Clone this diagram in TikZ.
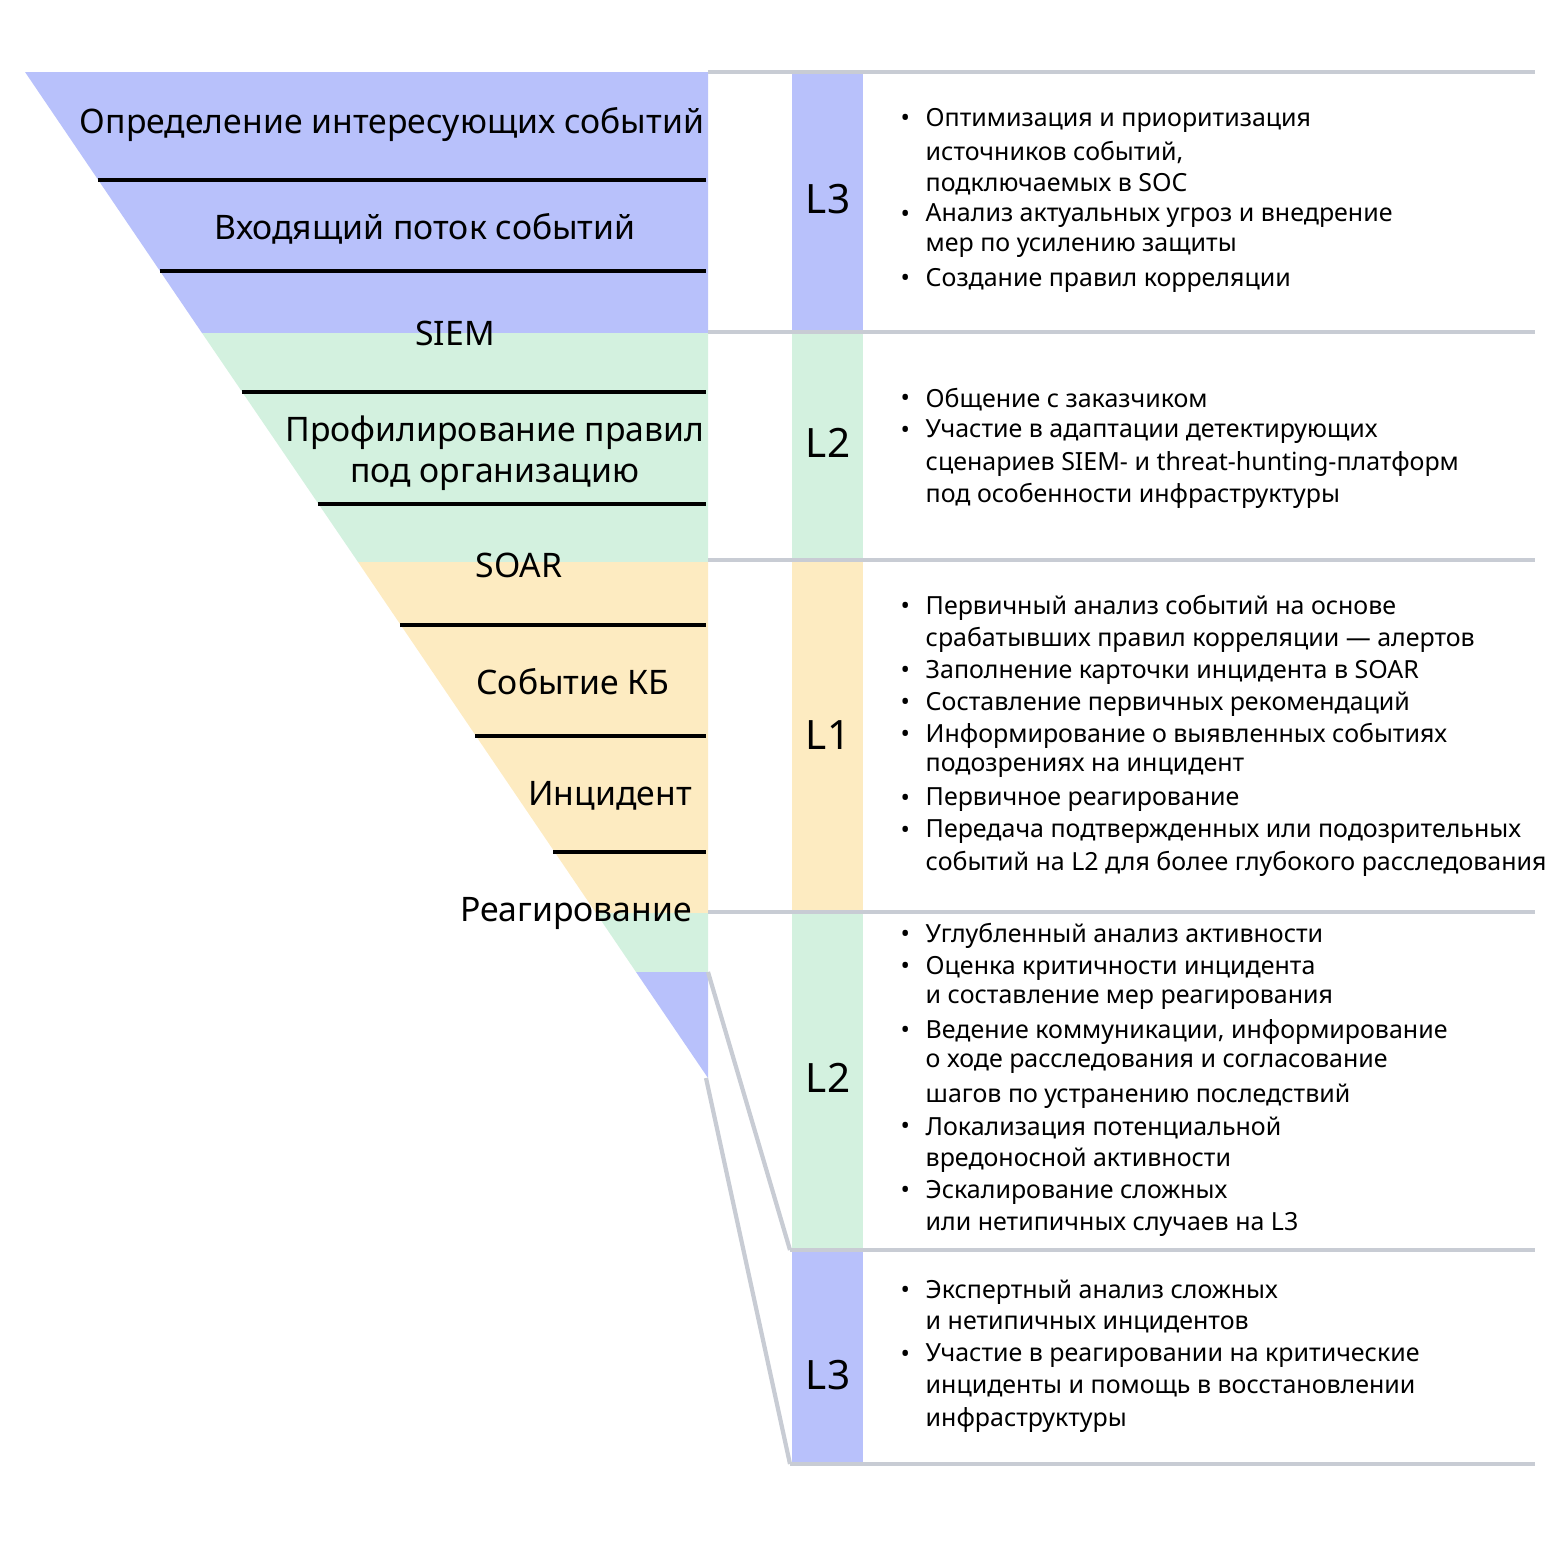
\documentclass[tikz,border=0pt]{standalone}
\usepackage{fontspec}
\setmainfont{Noto Sans}
\definecolor{lblue}{HTML}{B8C1FB}
\definecolor{lgreen}{HTML}{D3F1DF}
\definecolor{lyellow}{HTML}{FDEBC1}
\definecolor{lgray}{HTML}{C8CCD4}
\begin{document}
\begin{tikzpicture}[x=0.01cm,y=-0.01cm,
  stage/.style={font=\fontsize{9.6}{11.6}\selectfont,align=center,inner sep=0},
  lvl/.style={font=\fontsize{11.5}{13}\selectfont,inner sep=0},
  txt/.style={font=\fontsize{7.1}{9}\selectfont,anchor=west,inner sep=0},
  sep/.style={line width=0.9pt},
  grid/.style={lgray,line width=1.2pt}]
\useasboundingbox (0,0) rectangle (1560,1560);
% funnel bands
\fill[lblue] (25,72) -- (708,72) -- (708,333) -- (202,333) -- cycle;
\fill[lgreen] (202,333) -- (708,333) -- (708,562) -- (358,562) -- cycle;
\fill[lyellow] (358,562) -- (708,562) -- (708,913) -- (596,913) -- cycle;
\fill[lgreen] (596,913) -- (708,913) -- (708,972) -- (636,972) -- cycle;
\fill[lblue] (636,972) -- (708,972) -- (708,1078) -- cycle;
\foreach \y/\x in {180/98,271/160,392/242,504/318,625/400,736/475,852/553}
  \draw[sep] (\x,\y) -- (706,\y);
% stage labels
\node[stage] (s1) at (392,125) {Определение интересующих событий};
\node[stage] (s2) at (425,229) {Входящий поток событий};
\node[stage] (siem) at (455,333) {SIEM};
\node[stage] (s3) at (495,453) {Профилирование правил\\под организацию};
\node[stage] (soar) at (519,565) {SOAR};
\node[stage] (s4) at (573,682) {Событие КБ};
\node[stage] (s5) at (610,796) {Инцидент};
\node[stage] (s6) at (576,913) {Реагирование};
% level columns
\fill[lblue] (792,72) rectangle (863,331);
\fill[lgreen] (792,333) rectangle (863,559);
\fill[lyellow] (792,562) rectangle (863,911);
\fill[lgreen] (792,913) rectangle (863,1249);
\fill[lblue] (792,1251) rectangle (863,1463);
\node[lvl] (l3a) at (828,199) {L3};
\node[lvl] (l2a) at (828,443) {L2};
\node[lvl] (l1) at (828,735) {L1};
\node[lvl] (l2b) at (828,1078) {L2};
\node[lvl] (l3b) at (828,1375) {L3};
% grid lines
\draw[grid] (708,72) -- (1535,72);
\draw[grid] (708,332) -- (1535,332);
\draw[grid] (708,560) -- (1535,560);
\draw[grid] (708,912) -- (1535,912);
\draw[grid] (790,1250) -- (1535,1250);
\draw[grid] (790,1464) -- (1535,1464);
\draw[grid] (708,972) -- (790,1250);
\draw[grid] (706,1078) -- (790,1464);
% bullets
\foreach \y in {120,216,280,400,432,608,672,704,736,800,832,936,968,1032,1128,1192,1292,1356}
  \node[txt] at (900,\y) {•};
\foreach \y/\t in {
  120/Оптимизация и приоритизация,152/{источников событий,},184/подключаемых в SOC,
  216/Анализ актуальных угроз и внедрение,248/мер по усилению защиты,280/Создание правил корреляции,
  400/Общение с заказчиком,432/Участие в адаптации детектирующих,
  464/сценариев SIEM- и threat-hunting-платформ,496/под особенности инфраструктуры,
  608/Первичный анализ событий на основе,640/срабатывших правил корреляции — алертов,
  672/Заполнение карточки инцидента в SOAR,704/Составление первичных рекомендаций,
  736/Информирование о выявленных событиях /,768/подозрениях на инцидент,
  800/Первичное реагирование,832/Передача подтвержденных или подозрительных,
  864/событий на L2 для более глубокого расследования,
  936/Углубленный анализ активности,968/Оценка критичности инцидента,
  1000/и составление мер реагирования,1032/{Ведение коммуникации, информирование},
  1064/о ходе расследования и согласование,1096/шагов по устранению последствий,
  1128/Локализация потенциальной,1160/вредоносной активности,
  1192/Эскалирование сложных,1224/или нетипичных случаев на L3,
  1292/Экспертный анализ сложных,1324/и нетипичных инцидентов,
  1356/Участие в реагировании на критические,1388/инциденты и помощь в восстановлении,
  1420/инфраструктуры}
  \node[txt] at (925,\y) {\t};
\end{tikzpicture}
\end{document}
